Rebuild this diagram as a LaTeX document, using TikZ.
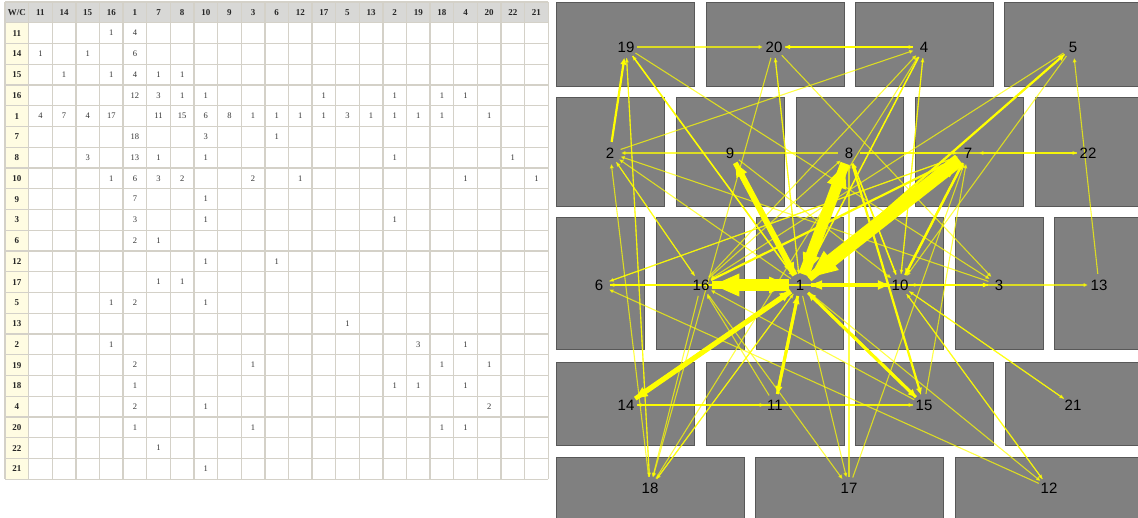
\documentclass[tikz,border=0pt]{standalone}
\usepackage{fontspec}
\setmainfont{Liberation Serif}
\newfontfamily\mapfont{Liberation Sans}
\usepackage{tikz}
\usetikzlibrary{arrows.meta}
\definecolor{tblhead}{RGB}{216, 216, 214}
\definecolor{tblrow}{RGB}{255, 252, 226}
\definecolor{tblrule}{RGB}{212, 209, 200}
\definecolor{zonegray}{RGB}{128, 128, 128}
\definecolor{zoneedge}{RGB}{88, 88, 88}
\definecolor{flowyellow}{RGB}{255, 255, 0}
\pgfdeclarelayer{zones}
\pgfdeclarelayer{flows}
\pgfsetlayers{zones,flows,main}
\tikzset{
    rule/.style  ={draw=tblrule, line width=1.4pt},
    hdr/.style   ={font=\fontsize{9}{10}\selectfont\bfseries, text=black!85, inner sep=0pt},
    cnt/.style   ={font=\fontsize{8.5}{10}\selectfont, text=black!80, inner sep=0pt},
    zone/.style  ={fill=zonegray, draw=zoneedge, line width=0.8pt},
    lab/.style   ={circle, minimum size=22pt, inner sep=0pt,
                   font=\mapfont\fontsize{15}{17}\selectfont},
    flow/.style  ={draw=flowyellow, -{Triangle[length=2pt 2, width=2pt 1.5]}},
    thinflow/.style={flow, draw opacity=0.72, fill opacity=0.72}
}
% row and column order of the table
\newcommand{\zoneorder}{11,14,15,16,1,7,8,10,9,3,6,12,17,5,13,2,19,18,4,20,22,21}
% from / to / count
\newcommand{\flows}{11/16/1, 11/1/4,
  14/11/1, 14/15/1, 14/1/6,
  15/14/1, 15/16/1, 15/1/4, 15/7/1, 15/8/1,
  16/1/12, 16/7/3, 16/8/1, 16/10/1, 16/17/1, 16/2/1, 16/18/1, 16/4/1,
  1/11/4, 1/14/7, 1/15/4, 1/16/17, 1/7/11, 1/8/15, 1/10/6, 1/9/8, 1/3/1, 1/6/1,
  1/12/1, 1/17/1, 1/5/3, 1/13/1, 1/2/1, 1/19/1, 1/18/1, 1/20/1,
  7/1/18, 7/10/3, 7/6/1,
  8/15/3, 8/1/13, 8/7/1, 8/10/1, 8/2/1, 8/22/1,
  10/16/1, 10/1/6, 10/7/3, 10/8/2, 10/3/2, 10/12/1, 10/4/1, 10/21/1,
  9/1/7, 9/10/1,
  3/1/3, 3/10/1, 3/2/1,
  6/1/2, 6/7/1,
  12/10/1, 12/6/1,
  17/7/1, 17/8/1,
  5/16/1, 5/1/2, 5/10/1,
  13/5/1,
  2/16/1, 2/19/3, 2/4/1,
  19/1/2, 19/3/1, 19/18/1, 19/20/1,
  18/1/1, 18/2/1, 18/19/1, 18/4/1,
  4/1/2, 4/10/1, 4/20/2,
  20/1/1, 20/3/1, 20/18/1, 20/4/1,
  22/7/1,
  21/10/1}

\begin{document}
\begin{tikzpicture}[x=1pt, y=-1pt]
  \useasboundingbox (0,0) rectangle (1138,518);
  \foreach \n [count=\i] in \zoneorder {\expandafter\xdef\csname ord\n\endcsname{\i}}

  % count table
  \fill[tblhead] (5,2) rectangle (548.26,22.75);
  \fill[tblrow] (5,22.75) rectangle (28.62,479.25);
  \foreach \k in {0,...,23} {
    \draw[rule] (5+23.62*\k, 2) -- (5+23.62*\k, 479.25);
    \draw[rule] (5, 2+20.75*\k) -- (548.26, 2+20.75*\k);
  }
  \node[hdr] (wc) at (16.81, 12.375) {W/C};
  \foreach \n [count=\i] in \zoneorder {
    \node[hdr] (col\n) at ({5+23.62*(\i+0.5)}, 12.375) {\n};
    \node[hdr] (row\n) at (16.81, {2+20.75*(\i+0.5)}) {\n};
  }
  \foreach \src/\dst/\wt in \flows {
    \edef\ci{\csname ord\dst\endcsname}
    \edef\ri{\csname ord\src\endcsname}
    \node[cnt] (n\src-\dst) at ({5+23.62*(\ci+0.5)}, {2+20.75*(\ri+0.5)}) {\wt};
  }

  % zone plan
  \begin{pgfonlayer}{zones}
    \foreach \xa/\ya/\xb/\yb in {556/2/694/86, 706/2/844/86, 855/2/993/86, 1004/2/1142/86,
        556/97/664/206, 676/97/784/206, 796/97/903/206, 915/97/1023/206, 1035/97/1142/206,
        556/217/644/349, 656/217/744/349, 756/217/843/349, 855/217/943/349,
        955/217/1043/349, 1054/217/1142/349,
        556/362/694/445, 706/362/844/445, 855/362/993/445, 1005/362/1142/445,
        556/457/744/521, 755/457/943/521, 955/457/1142/521}
      \draw[zone] (\xa,\ya) rectangle (\xb,\yb);
  \end{pgfonlayer}
  \foreach \n/\x/\y in {19/626/47, 20/774/47, 4/924/47, 5/1073/47,
      2/610/153, 9/730/153, 8/849/153, 7/968/153, 22/1088/153,
      6/599/285, 16/701/285, 1/800/285, 10/900/285, 3/999/285, 13/1099/285,
      14/626/405, 11/775/405, 15/924/405, 21/1073/405,
      18/650/488, 17/849/488, 12/1049/488}
    \node[lab] (z\n) at (\x,\y) {\n};

  % flows, width by count
  \begin{pgfonlayer}{flows}
    \foreach \src/\dst/\wt in \flows {
      \pgfmathsetmacro\lw{max(1.1, 0.74*\wt)}
      \ifnum\wt=1
        \draw[thinflow, line width=\lw pt] (z\src) -- (z\dst);
      \else
        \draw[flow, line width=\lw pt] (z\src) -- (z\dst);
      \fi
    }
  \end{pgfonlayer}
\end{tikzpicture}
\end{document}
